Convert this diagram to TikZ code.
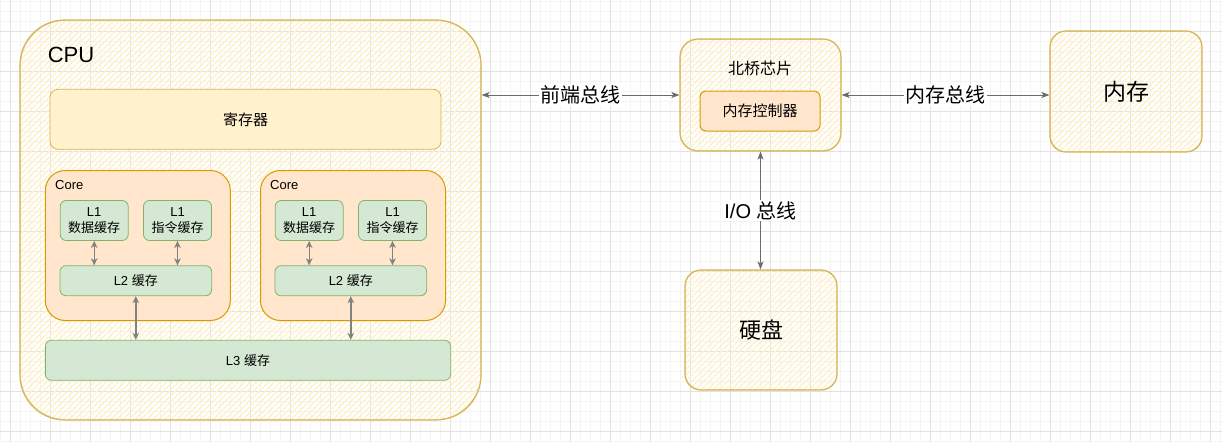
\documentclass[tikz,border=0pt]{standalone}
\usepackage{fontspec}
\setmainfont{Liberation Sans}
\newfontfamily\cjk{Noto Sans CJK SC}
\usetikzlibrary{arrows.meta,calc}
\definecolor{ylwS}{HTML}{D6B656}
\definecolor{ylwF}{HTML}{FFF2CC}
\definecolor{orgS}{HTML}{D79B00}
\definecolor{orgF}{HTML}{FFE6CC}
\definecolor{grnS}{HTML}{82B366}
\definecolor{grnF}{HTML}{D5E8D4}
\definecolor{edgec}{HTML}{6B6B6B}
\definecolor{gridmaj}{HTML}{E2E2E2}
\definecolor{gridmin}{HTML}{F4F4F4}
\definecolor{hatchc}{HTML}{FFF1C8}
\tikzset{
  hatch/.style={path picture={
    \foreach \o in {-462,-456,...,462}
      \draw[hatchc, line width=1.3pt] ([xshift=\o pt]path picture bounding box.center) ++(-260,260) -- ++(520,-520);
  }},
  sketchbox/.style={draw=ylwS, line width=1.2pt, rounded corners=#1, hatch, inner sep=0pt},
  sketch2/.style={draw=ylwS, line width=0.6pt, opacity=0.6, rounded corners=#1},
  regbox/.style={draw=ylwS, fill=ylwF, line width=0.8pt, rounded corners=8pt, inner sep=0pt},
  corebox/.style={draw=orgS, fill=orgF, line width=1pt, rounded corners=20pt, inner sep=0pt},
  mcbox/.style={draw=orgS, fill=orgF, line width=1pt, rounded corners=6pt, inner sep=0pt},
  cachebox/.style={draw=grnS, fill=grnF, line width=0.8pt, rounded corners=6pt, inner sep=0pt, align=center},
  bus/.style={draw=edgec, line width=1pt, {Stealth[length=8pt,width=6pt,inset=2pt]}-{Stealth[length=8pt,width=6pt,inset=2pt]}},
  inbus/.style={draw=edgec!85, line width=1.4pt, {Stealth[length=7pt,width=6.5pt,inset=2pt]}-{Stealth[length=7pt,width=6.5pt,inset=2pt]}},
  buslabel/.style={fill=white, inner sep=1.5pt, text=black},
  small/.style={font=\fontsize{13}{17}\selectfont},
}
\begin{document}
\begin{tikzpicture}[x=1pt,y=-1pt]
\useasboundingbox (0,0) rectangle (1222,442);
\fill[white] (0,0) rectangle (1222,442);
% grid
\foreach \x in {0,10,...,1220} \draw[gridmin, line width=0.6pt] (\x,0) -- (\x,442);
\foreach \y in {1.5,11.5,...,441.5} \draw[gridmin, line width=0.6pt] (0,\y) -- (1222,\y);
\foreach \x in {10,50,...,1210} \draw[gridmaj, line width=0.8pt] (\x,0) -- (\x,442);
\foreach \y in {31.5,71.5,...,431.5} \draw[gridmaj, line width=0.8pt] (0,\y) -- (1222,\y);

% CPU
\node[sketchbox=45pt, minimum width=461pt, minimum height=400pt] (cpu) at (250.5,220) {};
\draw[sketch2=45pt] ($(cpu.north west)+(1.2,1)$) rectangle ($(cpu.south east)+(-0.8,-1.2)$);
\node[font=\fontsize{22}{26}\selectfont, inner sep=0pt] (cpul) at (71,54.5) {CPU};

\node[regbox, minimum width=391pt, minimum height=60pt, font=\fontsize{15}{18}\selectfont] (reg) at (245.5,119.3) {\cjk 寄存器};

% cores
\node[corebox, minimum width=185pt, minimum height=150pt] (core1) at (137.8,245.5) {};
\node[corebox, minimum width=185pt, minimum height=150pt] (core2) at (353,245.5) {};
\node[small, anchor=west, inner sep=0pt] (core1l) at (55,185) {Core};
\node[small, anchor=west, inner sep=0pt] (core2l) at (270,185) {Core};

\node[cachebox, small, minimum width=68pt, minimum height=40pt] (d1) at (94.2,220.5) {L1\\[-1pt]{\cjk 数据缓存}};
\node[cachebox, small, minimum width=68pt, minimum height=40pt] (i1) at (177.5,220.5) {L1\\[-1pt]{\cjk 指令缓存}};
\node[cachebox, small, minimum width=68pt, minimum height=40pt] (d2) at (309.2,220.5) {L1\\[-1pt]{\cjk 数据缓存}};
\node[cachebox, small, minimum width=68pt, minimum height=40pt] (i2) at (392.5,220.5) {L1\\[-1pt]{\cjk 指令缓存}};
\node[cachebox, small, minimum width=151.7pt, minimum height=30pt] (l2a) at (135.8,280.7) {L2 {\cjk 缓存}};
\node[cachebox, small, minimum width=151.7pt, minimum height=30pt] (l2b) at (350.8,280.7) {L2 {\cjk 缓存}};
\node[cachebox, small, minimum width=405.3pt, minimum height=40pt] (l3) at (248,360.3) {L3 {\cjk 缓存}};

\foreach \a in {d1,i1,d2,i2}
  \draw[inbus] (\a.south) -- (\a.south |- l2a.north);
\draw[inbus] (l2a.south) -- (l2a.south |- l3.north);
\draw[inbus] (l2b.south) -- (l2b.south |- l3.north);

% north bridge
\node[sketchbox=18pt, minimum width=161pt, minimum height=112pt] (nb) at (760.5,95) {};
\draw[sketch2=18pt] ($(nb.north west)+(1,0.8)$) rectangle ($(nb.south east)+(-0.8,-1)$);
\node[font=\fontsize{16}{19}\selectfont, inner sep=0pt] (nbl) at (760,68) {\cjk 北桥芯片};
\node[mcbox, minimum width=120pt, minimum height=40pt, font=\fontsize{15}{18}\selectfont] (mc) at (760,111) {\cjk 内存控制器};

% memory
\node[sketchbox=16pt, minimum width=152pt, minimum height=121pt, font=\fontsize{23}{27}\selectfont] (mem) at (1126,91.5) {\cjk 内存};
\draw[sketch2=16pt] ($(mem.north west)+(1,0.8)$) rectangle ($(mem.south east)+(-0.8,-1)$);

% disk
\node[sketchbox=16pt, minimum width=152pt, minimum height=120pt, font=\fontsize{22}{26}\selectfont] (hdd) at (761,330) {\cjk 硬盘};
\draw[sketch2=16pt] ($(hdd.north west)+(1,0.8)$) rectangle ($(hdd.south east)+(-0.8,-1)$);

% buses
\draw[bus] (nb.west -| cpu.east) -- (nb.west)
  node[midway, buslabel, font=\fontsize{20}{24}\selectfont] (fsb) {\cjk 前端总线};
\draw[bus] (nb.east) -- (nb.east -| mem.west)
  node[midway, buslabel, font=\fontsize{20}{24}\selectfont] (mbus) {\cjk 内存总线};
\draw[bus] (nb.south) -- (nb.south |- hdd.north)
  node[midway, buslabel, font=\fontsize{20}{24}\selectfont] (iobus) {I/O {\cjk 总线}};
\end{tikzpicture}
\end{document}
